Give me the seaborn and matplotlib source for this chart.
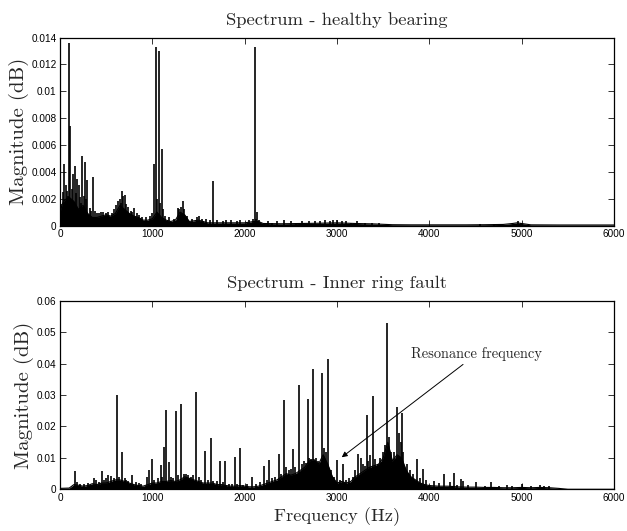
import numpy as np
import pandas as pd
import matplotlib
matplotlib.use("Agg")
import matplotlib.pyplot as plt
import seaborn as sns

# ---------------- data ----------------
# Healthy bearing: background envelope
top_env_freq = [0, 25, 50, 100, 150, 200, 250, 300, 350, 400, 450, 500, 550, 600, 650, 700, 750, 800, 850, 900,
                950, 1000, 1050, 1100, 1150, 1200, 1250, 1300, 1350, 1400, 1500, 1600, 1700, 1800, 1900, 2000, 2100,
                2150, 2200, 2400, 2600, 2800, 3000, 3200, 3400, 3600, 3800, 4000, 4200, 4400, 4600, 4800, 4900, 4950,
                5000, 5100, 5400, 5700, 6000]
top_env_mag = [0.0010, 0.0016, 0.0019, 0.0021, 0.0018, 0.0012, 0.0015, 0.0009, 0.0006, 0.0006,
               0.0007, 0.0008, 0.0007, 0.0009, 0.0015, 0.0012, 0.0009, 0.0007, 0.0006, 0.0004,
               0.0004, 0.0005, 0.0010, 0.0006, 0.0004, 0.0003, 0.0004, 0.0010, 0.0008, 0.0003,
               0.0004, 0.0002, 0.0002, 0.0002, 0.0002, 0.0002, 0.0003, 0.0003, 0.00015, 0.00013,
               0.00015, 0.00017, 0.0002, 0.00015, 0.00012, 0.00006, 0.00005, 0.00005, 0.00005, 0.00005,
               0.00006, 0.00008, 0.00015, 0.0002, 0.00015, 0.00005, 0.00004, 0.00004, 0.00004]
# Healthy bearing: spectral lines
top_peak_freq = [43, 60, 97, 112, 141, 159, 188, 205, 242, 271, 296, 358, 630, 672, 700, 800, 1015, 1036, 1069,
                 1101, 1085, 1120, 1274, 1330, 1661, 2108, 2137, 2120, 2430, 3003,
                 15, 30, 75, 85, 125, 170, 215, 228, 258, 285, 320, 340, 380, 400, 420, 445, 470, 495, 520, 560,
                 590, 610, 645, 660, 685, 715, 735, 765, 785, 830, 860, 890, 930, 980, 1000, 1050, 1140, 1180,
                 1230, 1290, 1310, 1345, 1370, 1430, 1480, 1510, 1540, 1580, 1620, 1700, 1760, 1800, 1850, 1920,
                 1950, 2050, 2090, 2160, 2250, 2300, 2350, 2500, 2560, 2620, 2700, 2760, 2820, 2870, 2920, 2960,
                 3050, 3100, 3150, 3220, 3300, 3380, 3450, 4550, 4700, 4960, 4990]
top_peak_mag = [0.0046, 0.0030, 0.0136, 0.0074, 0.0038, 0.0044, 0.0035, 0.0030, 0.0052, 0.0047, 0.0034, 0.0036,
                0.0018, 0.0026, 0.0023, 0.0013, 0.0046, 0.0133, 0.0130, 0.0057, 0.0017, 0.0012, 0.0013, 0.0018,
                0.0033, 0.0133, 0.0010, 0.0005, 0.0004, 0.0004,
                0.0016, 0.0025, 0.0026, 0.0022, 0.0027, 0.0024, 0.0021, 0.0017, 0.0022, 0.0020, 0.0013, 0.0011,
                0.0011, 0.0009, 0.0009, 0.0010, 0.0010, 0.0009, 0.0010, 0.0009, 0.0012, 0.0015, 0.0020, 0.0017,
                0.0022, 0.0016, 0.0014, 0.0011, 0.0010, 0.0009, 0.0008, 0.0006, 0.0006, 0.0007, 0.0009, 0.0020,
                0.0007, 0.0006, 0.0005, 0.0012, 0.0014, 0.0012, 0.0007, 0.0005, 0.0006, 0.0007, 0.0005, 0.0005,
                0.0004, 0.0004, 0.0003, 0.0004, 0.0004, 0.0003, 0.0004, 0.0004, 0.0005, 0.0004, 0.0003, 0.0002,
                0.0003, 0.0003, 0.0002, 0.0003, 0.0003, 0.0003, 0.0003, 0.0004, 0.0003, 0.0004, 0.0003, 0.0003,
                0.0002, 0.0003, 0.0002, 0.0002, 0.0002, 0.0001, 0.0001, 0.0003, 0.0002]

# Inner ring fault: background envelope
bot_env_freq = [0, 100, 150, 200, 250, 300, 350, 400, 450, 500, 550, 600, 650, 700, 750, 800, 850, 900, 950, 1000,
                1050, 1100, 1150, 1200, 1250, 1300, 1350, 1400, 1450, 1500, 1550, 1600, 1650, 1700, 1750, 1800,
                1850, 1900, 1950, 2000, 2050, 2100, 2150, 2200, 2250, 2300, 2350, 2400, 2450, 2500, 2550, 2600,
                2650, 2700, 2750, 2800, 2850, 2900, 2950, 3000, 3050, 3100, 3150, 3200, 3250, 3300, 3350, 3400,
                3450, 3500, 3550, 3600, 3650, 3700, 3750, 3800, 3850, 3900, 3950, 4000, 4100, 4200, 4300, 4400,
                4500, 4600, 4700, 4800, 4900, 5000, 5100, 5200, 5300, 5400, 5500, 6000]
bot_env_mag = [0.0003, 0.0004, 0.0015, 0.0013, 0.0010, 0.0012, 0.0018, 0.0015, 0.0020, 0.0020,
               0.0025, 0.0030, 0.0030, 0.0025, 0.0020, 0.0015, 0.0012, 0.0010, 0.0015, 0.0020,
               0.0020, 0.0025, 0.0025, 0.0028, 0.0025, 0.0030, 0.0040, 0.0035, 0.0030, 0.0025,
               0.0020, 0.0020, 0.0020, 0.0015, 0.0015, 0.0012, 0.0010, 0.0010, 0.0012, 0.0010,
               0.0008, 0.0008, 0.0010, 0.0015, 0.0020, 0.0025, 0.0030, 0.0040, 0.0050, 0.0045,
               0.0050, 0.0060, 0.0070, 0.0090, 0.0095, 0.0080, 0.0110, 0.0080, 0.0040, 0.0020,
               0.0025, 0.0020, 0.0025, 0.0040, 0.0050, 0.0060, 0.0070, 0.0075, 0.0080, 0.0100,
               0.0150, 0.0090, 0.0110, 0.0100, 0.0060, 0.0040, 0.0030, 0.0020, 0.0015, 0.0012,
               0.0010, 0.0010, 0.0008, 0.0007, 0.0007, 0.0006, 0.0006, 0.0005, 0.0005, 0.0006,
               0.0005, 0.0006, 0.0005, 0.0003, 0.0000, 0.0000]
# Inner ring fault: spectral lines
bot_peak_freq = [162, 372, 458, 523, 552, 614, 675, 776, 939, 964, 993, 1094, 1126, 1152, 1180, 1253, 1310, 1469,
                 1570, 1632, 1733, 1791, 1892, 1949, 2209, 2267, 2368, 2426, 2527, 2585, 2686, 2744, 2842, 2906,
                 3003, 3061, 3224, 3260, 3325, 3358, 3386, 3545, 3646, 3704, 3863, 3928, 4163, 4267, 4339, 4368,
                 4502, 4664, 4838, 5000, 5200, 5240,
                 180, 220, 260, 300, 330, 395, 420, 480, 500, 580, 640, 700, 720, 740, 820, 860, 880, 1020, 1060,
                 1110, 1200, 1220, 1280, 1340, 1360, 1390, 1420, 1440, 1500, 1530, 1600, 1660, 1700, 1760, 1830,
                 1860, 1920, 1980, 2020, 2080, 2120, 2170, 2240, 2300, 2330, 2390, 2450, 2480, 2500, 2550, 2620,
                 2640, 2660, 2700, 2720, 2770, 2790, 2820, 2860, 2880, 2930, 2970, 3030, 3100, 3130, 3170, 3200,
                 3280, 3300, 3340, 3410, 3440, 3470, 3500, 3520, 3560, 3580, 3620, 3670, 3690, 3720, 3760, 3790,
                 3820, 3900, 3960, 4050, 4100, 4220, 4300, 4420, 4600, 4750, 4900, 5100, 5300]
bot_peak_mag = [0.0059, 0.0035, 0.0058, 0.0045, 0.0042, 0.0300, 0.0118, 0.0045, 0.0038, 0.0061, 0.0096, 0.0078,
                0.0136, 0.0252, 0.0086, 0.0249, 0.0271, 0.0310, 0.0122, 0.0164, 0.0091, 0.0090, 0.0103, 0.0133,
                0.0075, 0.0093, 0.0112, 0.0283, 0.0129, 0.0332, 0.0288, 0.0384, 0.0369, 0.0416, 0.0093, 0.0080,
                0.0112, 0.0100, 0.0235, 0.0110, 0.0297, 0.0528, 0.0263, 0.0244, 0.0096, 0.0065, 0.0050, 0.0051,
                0.0033, 0.0025, 0.0024, 0.0022, 0.0014, 0.0018, 0.0013, 0.0012,
                0.0022, 0.0018, 0.0016, 0.0020, 0.0015, 0.0030, 0.0022, 0.0030, 0.0035, 0.0035, 0.0040, 0.0035,
                0.0030, 0.0028, 0.0022, 0.0020, 0.0018, 0.0030, 0.0035, 0.0040, 0.0040, 0.0035, 0.0045, 0.0050,
                0.0048, 0.0045, 0.0040, 0.0045, 0.0038, 0.0030, 0.0030, 0.0028, 0.0025, 0.0022, 0.0018, 0.0016,
                0.0018, 0.0015, 0.0016, 0.0040, 0.0018, 0.0022, 0.0030, 0.0035, 0.0040, 0.0050, 0.0070, 0.0060,
                0.0065, 0.0070, 0.0080, 0.0090, 0.0085, 0.0100, 0.0095, 0.0100, 0.0090, 0.0085, 0.0130, 0.0120,
                0.0060, 0.0040, 0.0030, 0.0030, 0.0035, 0.0040, 0.0060, 0.0080, 0.0075, 0.0090, 0.0095, 0.0080,
                0.0100, 0.0120, 0.0140, 0.0167, 0.0120, 0.0120, 0.0180, 0.0150, 0.0120, 0.0080, 0.0060, 0.0050,
                0.0035, 0.0030, 0.0025, 0.0020, 0.0022, 0.0015, 0.0014, 0.0012, 0.0010, 0.0010, 0.0010, 0.0009]

x_ticks = [0, 1000, 2000, 3000, 4000, 5000, 6000]
x_tick_labels = ["0", "1000", "2000", "3000", "4000", "5000", "6000"]
top_y_ticks = [0, 0.002, 0.004, 0.006, 0.008, 0.010, 0.012, 0.014]
top_y_labels = ["0", "0.002", "0.004", "0.006", "0.008", "0.01", "0.012", "0.014"]
bot_y_ticks = [0, 0.01, 0.02, 0.03, 0.04, 0.05, 0.06]
bot_y_labels = ["0", "0.01", "0.02", "0.03", "0.04", "0.05", "0.06"]

titles = ["Spectrum - healthy bearing", "Spectrum - Inner ring fault"]
y_label = "Magnitude (dB)"
x_label = "Frequency (Hz)"
annotation_text = "Resonance frequency"
annotation_tip = (3051, 0.0102)
annotation_text_pos = (3801, 0.0408)

# ---------------- style ----------------
sns.set_style("white")
plt.rcParams["font.family"] = ["Liberation Sans", "DejaVu Sans"]
serif = "cmr10"

fig = plt.figure(figsize=(6.27, 5.31), dpi=100)
ax_top = fig.add_axes([0.0957, 0.5753, 0.8836, 0.354])
ax_bot = fig.add_axes([0.0957, 0.0785, 0.8836, 0.355])


def draw_panel(ax, env_f, env_m, pk_f, pk_m, ylim, yticks, ylabels, title):
    env = pd.DataFrame({"freq": env_f, "mag": env_m})
    ax.fill_between(env["freq"], 0, env["mag"], color="black", lw=0, zorder=2)
    sns.lineplot(data=env, x="freq", y="mag", color="black", lw=0.8, ax=ax,
                 estimator=None, sort=True, zorder=3)
    peaks = pd.DataFrame({"freq": pk_f, "mag": pk_m})
    ax.vlines(peaks["freq"], 0, peaks["mag"], colors="black", lw=1.2, zorder=3)
    ax.set_xlim(0, 6000)
    ax.set_ylim(*ylim)
    ax.set_xticks(x_ticks)
    ax.set_xticklabels(x_tick_labels)
    ax.set_yticks(yticks)
    ax.set_yticklabels(ylabels)
    ax.tick_params(direction="in", length=4.5, width=0.7, color="#333333",
                   top=True, right=True, bottom=True, left=True,
                   labelsize=7.2, pad=2.5, labelcolor="black")
    for s in ax.spines.values():
        s.set_visible(True)
        s.set_color("black")
        s.set_linewidth(0.9)
    ax.set_title(title, fontfamily=serif, fontsize=13.4, pad=9)
    ax.set_ylabel(y_label, fontfamily=serif, fontsize=15, labelpad=2)
    ax.set_xlabel("")


draw_panel(ax_top, top_env_freq, top_env_mag, top_peak_freq, top_peak_mag,
           (0, 0.014), top_y_ticks, top_y_labels, titles[0])
draw_panel(ax_bot, bot_env_freq, bot_env_mag, bot_peak_freq, bot_peak_mag,
           (0, 0.06), bot_y_ticks, bot_y_labels, titles[1])
ax_bot.set_xlabel(x_label, fontfamily=serif, fontsize=13.3, labelpad=3)

ax_bot.annotate(annotation_text, xy=annotation_tip, xytext=annotation_text_pos,
                fontfamily=serif, fontsize=10.4, ha="left", va="bottom",
                arrowprops=dict(arrowstyle="-|>", color="black", lw=0.7,
                                mutation_scale=8, shrinkA=0, shrinkB=0),
                zorder=5)

fig.savefig("out.png", dpi=100)
